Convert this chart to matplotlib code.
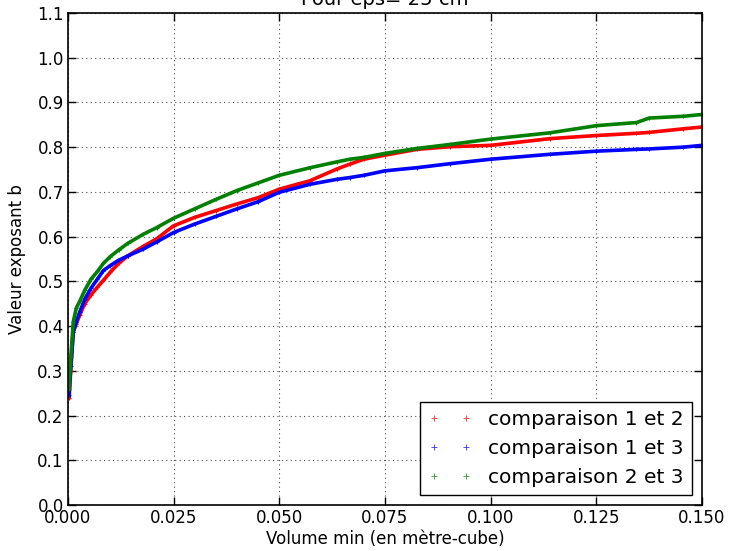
import matplotlib
matplotlib.use('Agg')
import matplotlib.pyplot as plt
from matplotlib.lines import Line2D

# Volume min (m3) et valeurs de l'exposant b
volume = [0.0003, 0.0007, 0.0013, 0.002, 0.0028, 0.004, 0.0055, 0.007, 0.0084, 0.010,
          0.012, 0.0142, 0.0178, 0.021, 0.025, 0.030, 0.035, 0.040, 0.045, 0.050,
          0.0573, 0.0636, 0.0667, 0.070, 0.075, 0.0825, 0.0904, 0.100, 0.114, 0.125,
          0.1345, 0.1375, 0.1456, 0.150]

b_12 = [0.24, 0.30, 0.387, 0.405, 0.424, 0.45, 0.47, 0.487, 0.502, 0.52,
        0.54, 0.557, 0.578, 0.595, 0.624, 0.643, 0.658, 0.673, 0.687, 0.706,
        0.725, 0.751, 0.762, 0.773, 0.782, 0.795, 0.801, 0.804, 0.819, 0.826,
        0.831, 0.833, 0.841, 0.845]

b_13 = [0.245, 0.31, 0.387, 0.41, 0.431, 0.46, 0.485, 0.505, 0.524, 0.535,
        0.547, 0.557, 0.572, 0.588, 0.609, 0.628, 0.645, 0.662, 0.678, 0.699,
        0.717, 0.728, 0.732, 0.737, 0.747, 0.754, 0.763, 0.773, 0.784, 0.791,
        0.795, 0.796, 0.800, 0.804]

b_23 = [0.26, 0.33, 0.41, 0.44, 0.455, 0.48, 0.505, 0.522, 0.54, 0.555,
        0.57, 0.585, 0.605, 0.62, 0.641, 0.662, 0.683, 0.703, 0.72, 0.737,
        0.754, 0.767, 0.773, 0.777, 0.786, 0.797, 0.806, 0.818, 0.832, 0.848,
        0.855, 0.865, 0.869, 0.873]

labels = ['comparaison 1 et 2', 'comparaison 1 et 3', 'comparaison 2 et 3']
colors = ['red', 'blue', 'green']

fig = plt.figure(figsize=(7.29, 5.51), dpi=100)
ax = fig.add_axes([0.093, 0.0835, 0.87, 0.893])

for serie, c in zip([b_12, b_13, b_23], colors):
    ax.plot(volume, serie, '-', color=c, linewidth=2.6, marker='+',
            markersize=3, markeredgewidth=0.8)

ax.set_xlim(0, 0.15)
ax.set_ylim(0, 1.1)
ax.set_xticks([0.0, 0.025, 0.05, 0.075, 0.1, 0.125, 0.15])
ax.set_xticklabels(['0.000', '0.025', '0.050', '0.075', '0.100', '0.125', '0.150'])
ax.set_yticks([i / 10 for i in range(12)])
ax.set_yticklabels(['%.1f' % (i / 10) for i in range(12)])
ax.tick_params(direction='in', top=True, right=True, length=6, width=1,
               labelsize=12, pad=3)
ax.grid(True, color='0.3', linestyle=(0, (1, 3)), linewidth=0.8)
for s in ax.spines.values():
    s.set_linewidth(1.2)

ax.set_xlabel('Volume min (en mètre-cube)', fontsize=12, labelpad=2)
ax.set_ylabel('Valeur exposant b', fontsize=12, labelpad=8)
ax.set_title('Pour eps= 25 cm', fontsize=14, pad=6)

handles = [Line2D([], [], linestyle='none', marker='+', color=c,
                  markeredgecolor=c, markersize=5, markeredgewidth=0.6, alpha=0.8)
           for c in colors]
leg = ax.legend(handles, labels, loc='lower right', numpoints=2, fontsize=14.5,
                fancybox=False, edgecolor='black', framealpha=1,
                handlelength=2.2, borderaxespad=0.5, labelspacing=0.5)
leg.get_frame().set_linewidth(1.0)

fig.savefig('out.png', dpi=100)
